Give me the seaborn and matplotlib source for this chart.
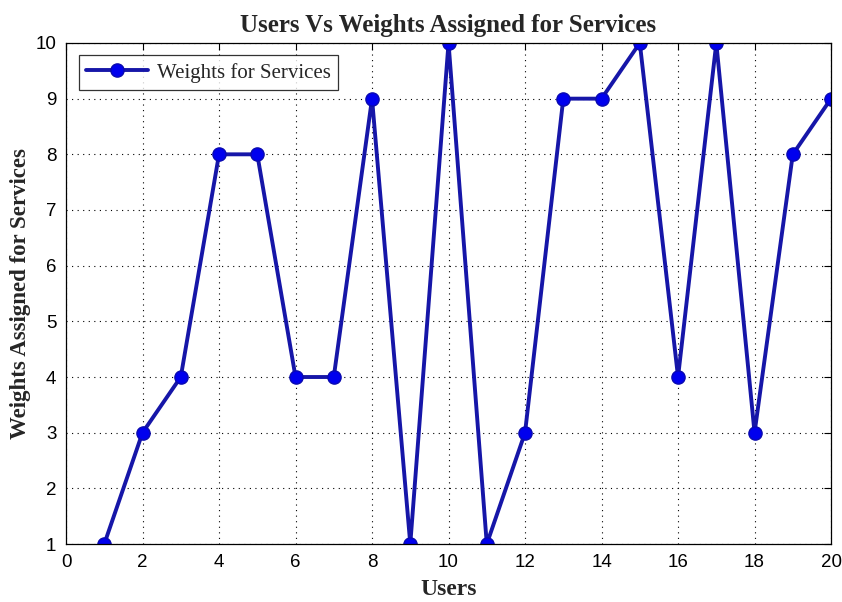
import matplotlib
matplotlib.use("Agg")
import matplotlib.pyplot as plt
import seaborn as sns
import pandas as pd

users = list(range(1, 21))
weights = [1, 3, 4, 8, 8, 4, 4, 9, 1, 10, 1, 3, 9, 9, 10, 4, 10, 3, 8, 9]
x_ticks = list(range(0, 21, 2))
y_ticks = list(range(1, 11))

df = pd.DataFrame({"Users": users, "Weights": weights})

sns.set_style("white")
plt.rcParams["font.family"] = ["Liberation Sans", "DejaVu Sans"]

fig = plt.figure(figsize=(8.42, 6.02), dpi=100)
ax = fig.add_axes([0.0784, 0.0963, 0.9086, 0.8323])

sns.lineplot(data=df, x="Users", y="Weights", ax=ax, color="#1616a8",
             linewidth=2.8, marker="o", markersize=9.5, markeredgecolor="#0a0ab0",
             markeredgewidth=1.0, markerfacecolor="#0000ee", label="Weights for Services")

ax.set_xlim(0, 20)
ax.set_ylim(1, 10)
ax.set_xticks(x_ticks)
ax.set_yticks(y_ticks)
ax.grid(True, color="black", linestyle=(0, (1, 4)), linewidth=0.8)
ax.tick_params(direction="in", top=True, right=True, length=5, labelsize=13.5,
               colors="black", pad=7)
for s in ax.spines.values():
    s.set_color("black")
    s.set_linewidth(0.9)

serif = ["Liberation Serif", "DejaVu Serif"]
ax.set_title("Users Vs Weights Assigned for Services", fontsize=18, fontweight="bold",
             family=serif, pad=8)
ax.set_xlabel("Users", fontsize=17, fontweight="bold", family=serif, labelpad=6)
ax.set_ylabel("Weights Assigned for Services", fontsize=16.5, fontweight="bold",
              family=serif, labelpad=3)

leg = ax.legend(loc="upper left", prop={"family": serif, "size": 15}, frameon=True,
                fancybox=False, edgecolor="black", borderpad=0.35, handlelength=3,
                handletextpad=0.4, borderaxespad=0.6)
leg.get_frame().set_linewidth(0.9)

fig.savefig("out.png", dpi=100)
